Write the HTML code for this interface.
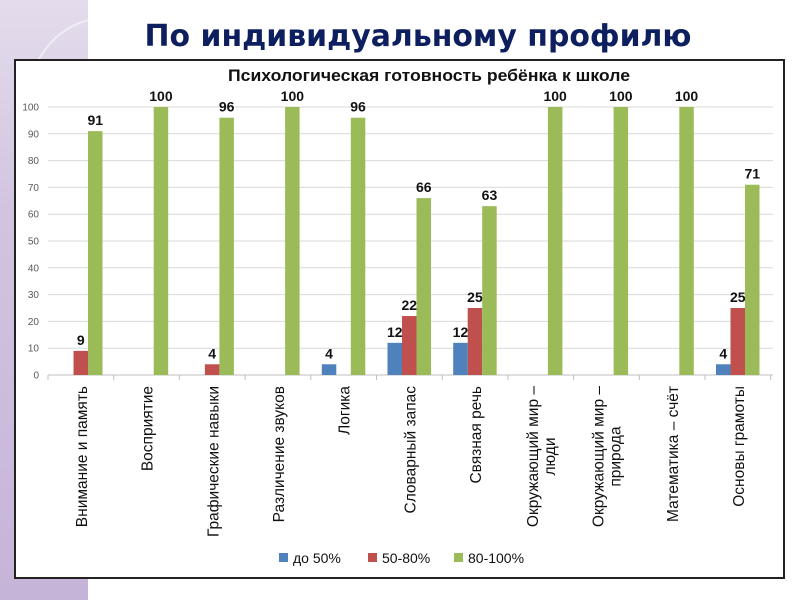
<!DOCTYPE html>
<html><head><meta charset="utf-8"><style>
html,body{margin:0;padding:0;width:800px;height:600px;overflow:hidden;background:#fff}
svg{display:block;font-family:"Liberation Sans","DejaVu Sans",sans-serif}
</style></head><body>
<svg id="s" width="800" height="600" xmlns="http://www.w3.org/2000/svg">
<defs><linearGradient id="pg" x1="0" y1="0" x2="0" y2="1">
<stop offset="0" stop-color="#e4dcec"/><stop offset="0.35" stop-color="#d2c4e0"/><stop offset="1" stop-color="#c6b4d8"/></linearGradient></defs>
<rect x="0" y="0" width="88" height="600" fill="url(#pg)"/>
<path d="M88 20 Q20 40 20 150" stroke="#f0ecf4" stroke-width="2" fill="none"/>
<text x="418" y="46" text-anchor="middle" font-family="'DejaVu Sans',sans-serif" font-weight="bold" font-size="30" fill="#0d1f5e" textLength="547" lengthAdjust="spacingAndGlyphs">По индивидуальному профилю</text>
<rect x="15" y="60" width="769" height="518" fill="#fff" stroke="#222" stroke-width="2"/>
<text x="429" y="81" text-anchor="middle" font-weight="bold" font-size="17" fill="#111" textLength="402" lengthAdjust="spacingAndGlyphs">Психологическая готовность ребёнка к школе</text>
<g id="g"></g>
</svg>
<script>
var g=document.getElementById('g'),h='';
var y0=375,k=2.68,x0=48,gw=65.7,fs=15.5;
for(var i=0;i<=10;i++){var y=y0-i*10*k;
 h+='<line x1="'+x0+'" y1="'+y+'" x2="773" y2="'+y+'" stroke="#d9d9d9" stroke-width="1"/>';
 h+='<text x="39" y="'+(y+3.5)+'" text-anchor="end" font-size="10" fill="#595959">'+(i*10)+'</text>';}
h+='<line x1="'+x0+'" y1="'+y0+'" x2="773" y2="'+y0+'" stroke="#bfbfbf"/>';
for(var i=0;i<=11;i++){var x=x0+i*gw;h+='<line x1="'+x+'" y1="'+y0+'" x2="'+x+'" y2="'+(y0+5)+'" stroke="#bfbfbf"/>';}
var d=[[0,9,91],[0,0,100],[0,4,96],[0,0,100],[4,0,96],[12,22,66],[12,25,63],[0,0,100],[0,0,100],[0,0,100],[4,25,71]];
var cols=['#4f81bd','#c0504d','#9bbb59'];
var labs=[['Внимание и память'],['Восприятие'],['Графические навыки'],['Различение звуков'],['Логика'],['Словарный запас'],['Связная речь'],['Окружающий мир –','люди'],['Окружающий мир –','природа'],['Математика – счёт'],['Основы грамоты']];
var two=[];
for(var i=0;i<11;i++){var gx=x0+i*gw;
 for(var j=0;j<3;j++){var v=d[i][j];if(!v)continue;var bx=gx+11+j*14.5,bh=v*k;
  h+='<rect x="'+bx+'" y="'+(y0-bh)+'" width="14.5" height="'+bh+'" fill="'+cols[j]+'"/>';
  h+='<text x="'+(bx+7.25)+'" y="'+(y0-bh-6)+'" text-anchor="middle" font-size="14" font-weight="bold" fill="#111">'+v+'</text>';}
 var L=labs[i],cx=gx+gw/2;
 if(L.length==1){h+='<text transform="translate('+(cx+6)+',386) rotate(-90)" text-anchor="end" font-size="'+fs+'" fill="#111">'+L[0]+'</text>';}
 else{h+='<text id="a'+i+'" transform="translate('+(cx-3)+',386) rotate(-90)" text-anchor="end" font-size="'+fs+'" fill="#111">'+L[0]+'</text>';
  h+='<text id="b'+i+'" transform="translate('+(cx+14)+',386) rotate(-90)" text-anchor="middle" font-size="'+fs+'" fill="#111">'+L[1]+'</text>';two.push([i,cx]);}
}
var lg=[[279,'до 50%'],[368,'50-80%'],[454,'80-100%']];
for(var j=0;j<3;j++){h+='<rect x="'+lg[j][0]+'" y="553" width="9" height="9" fill="'+cols[j]+'"/>';
 h+='<text x="'+(lg[j][0]+14)+'" y="563" font-size="14" fill="#111">'+lg[j][1]+'</text>';}
g.innerHTML=h;
two.forEach(function(t){var a=document.getElementById('a'+t[0]),b=document.getElementById('b'+t[0]);
 var l=a.getComputedTextLength();b.setAttribute('transform','translate('+(t[1]+14)+','+(386+l/2)+') rotate(-90)');});
</script>
</body></html>
